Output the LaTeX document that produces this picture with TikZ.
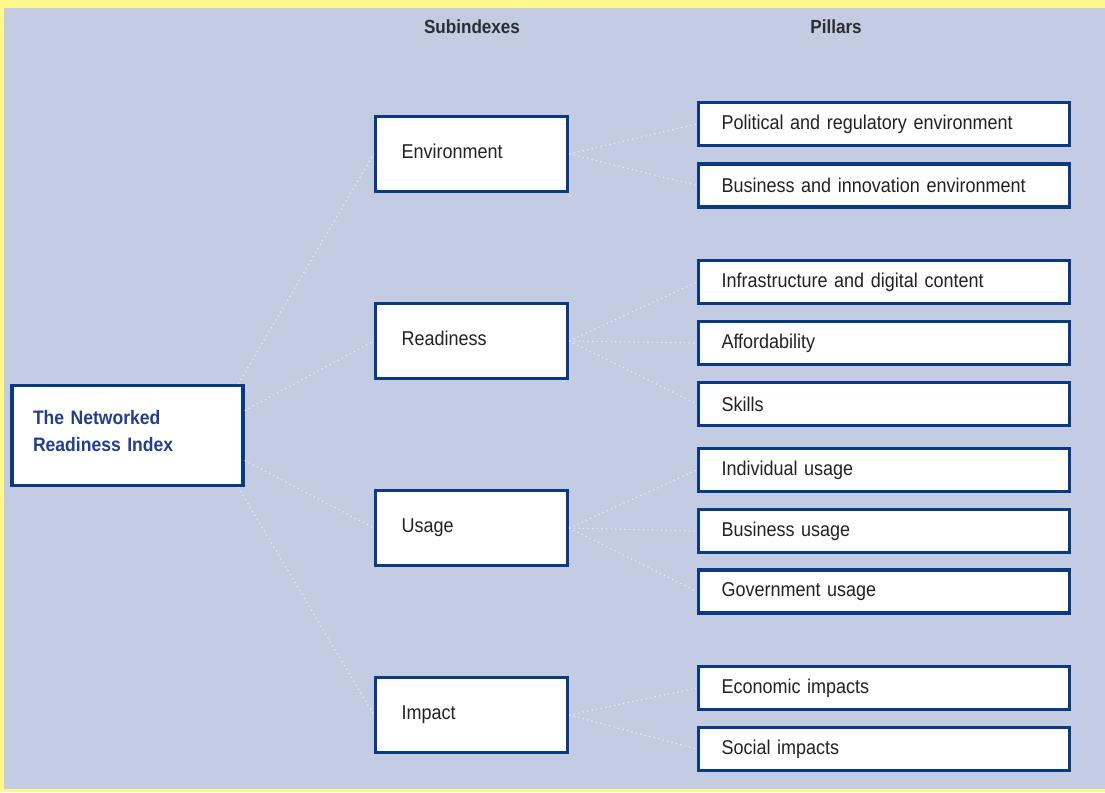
\documentclass[tikz,border=0pt]{standalone}
\usepackage{fontspec}
\setmainfont{Liberation Sans}[FakeStretch=0.90]
\definecolor{bgblue}{HTML}{C3CCE3}
\definecolor{framey}{HTML}{FEF88C}
\definecolor{boxblue}{HTML}{0A3A84}
\definecolor{titleblue}{HTML}{233F8A}
\definecolor{ink}{HTML}{222222}
\definecolor{headink}{HTML}{2E2E2E}
\begin{document}
\begin{tikzpicture}[x=1pt,y=-1pt,
  basebox/.style={draw=boxblue, line width=3.3pt, fill=white, align=left,
    font=\fontsize{20}{24}\selectfont, text=ink},
  indexbox/.style={basebox, minimum height=100, inner xsep=21, text width=189,
    font=\fontsize{19.5}{27}\selectfont\bfseries, text=titleblue},
  subbox/.style={basebox, minimum height=75, inner xsep=26, text width=140,
    text depth=5.5pt},
  pillarbox/.style={basebox, minimum height=43, inner xsep=23, text width=325},
  header/.style={font=\fontsize{19}{23}\selectfont\bfseries, text=headink},
  link/.style={draw=white, opacity=0.7, line width=1.1pt,
    dash pattern=on 1.2pt off 3.4pt}
]
% frame and background
\fill[framey] (0,0) rectangle (1105,792);
\fill[bgblue] (4,8) rectangle (1105,789);
\useasboundingbox (0,0) rectangle (1105,792);

% column headings
\node[header] (hsub) at (472,27) {Subindexes};
\node[header] (hpil) at (836,27) {Pillars};

% overall index (extra space below the text lifts it a little)
\node[indexbox] (nri) at (127.5,435.5) {The Networked\\Readiness Index\par\vspace*{8pt}};

% subindexes
\node[subbox] (env) at (471.5,154) {Environment};
\node[subbox] (rea) at (471.5,341) {Readiness};
\node[subbox] (usa) at (471.5,528) {Usage};
\node[subbox] (imp) at (471.5,715) {Impact};

% pillars
\node[pillarbox] (p1)  at (884,124) {Political and regulatory environment};
\node[pillarbox] (p2)  at (884,185.5) {Business and innovation environment};
\node[pillarbox] (p3)  at (884,282) {Infrastructure and digital content};
\node[pillarbox] (p4)  at (884,343) {Affordability};
\node[pillarbox] (p5)  at (884,404) {Skills};
\node[pillarbox] (p6)  at (884,470) {Individual usage};
\node[pillarbox] (p7)  at (884,531) {Business usage};
\node[pillarbox] (p8)  at (884,591.5) {Government usage};
\node[pillarbox] (p9)  at (884,688) {Economic impacts};
\node[pillarbox] (p10) at (884,749) {Social impacts};

% index to subindexes
\draw[link] (nri.25)  -- (env.west);
\draw[link] (nri.12)  -- (rea.west);
\draw[link] (nri.-12) -- (usa.west);
\draw[link] (nri.-25) -- (imp.west);

% subindexes to pillars
\draw[link] (env.east) -- (p1.west);
\draw[link] (env.east) -- (p2.west);
\draw[link] (rea.east) -- (p3.west);
\draw[link] (rea.east) -- (p4.west);
\draw[link] (rea.east) -- (p5.west);
\draw[link] (usa.east) -- (p6.west);
\draw[link] (usa.east) -- (p7.west);
\draw[link] (usa.east) -- (p8.west);
\draw[link] (imp.east) -- (p9.west);
\draw[link] (imp.east) -- (p10.west);
\end{tikzpicture}
\end{document}
